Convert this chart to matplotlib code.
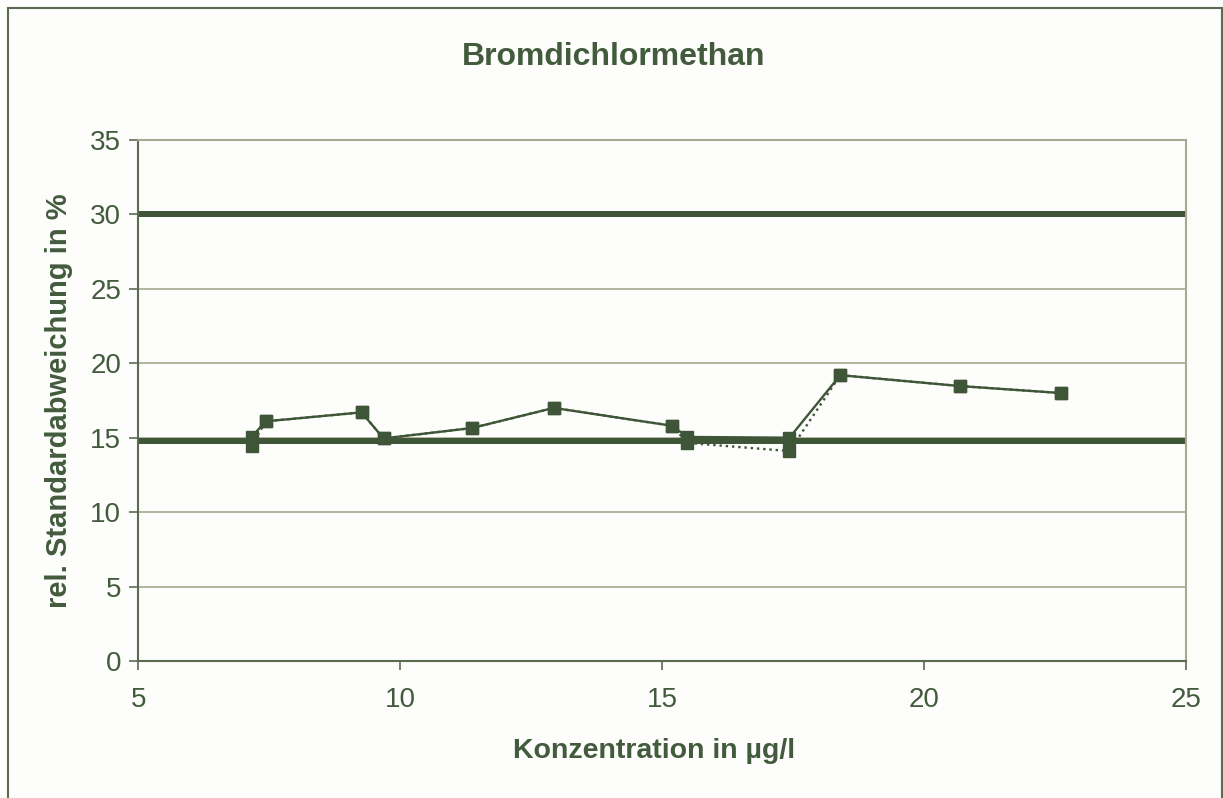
import matplotlib
matplotlib.use("Agg")
import matplotlib.pyplot as plt
from matplotlib.patches import Rectangle

# --- Daten ---
konz = [7.16, 7.43, 9.26, 9.68, 11.37, 12.93, 15.19, 15.48, 17.43, 18.40, 20.68, 22.61]
rsd_a = [15.05, 16.1, 16.7, 14.95, 15.65, 17.0, 15.8, 15.05, 15.0, 19.2, 18.47, 18.0]
rsd_b = [14.45, 16.1, 16.7, 14.95, 15.65, 17.0, 15.8, 14.65, 14.1, 19.2, 18.47, 18.0]
grenzen = [30.0, 14.8]

GRUEN = '#3f5538'
TEXT = '#435b3d'
GRID = '#a9a890'
ACHSE = '#5b6b52'

plt.rcParams['font.family'] = ['Liberation Sans', 'DejaVu Sans']

fig = plt.figure(figsize=(12.23, 7.98), dpi=100, facecolor='#fdfdfb')
ax = fig.add_axes([0.1132, 0.1717, 0.8565, 0.6529])
ax.set_facecolor('#fdfdfb')

for g in grenzen:
    ax.axhline(g, color=GRUEN, linewidth=4.3, zorder=2)

ax.plot(konz, rsd_b, color=GRUEN, linestyle=':', linewidth=1.7,
        marker='s', markersize=9, zorder=3)
ax.plot(konz, rsd_a, color=GRUEN, linestyle='-', linewidth=1.7,
        marker='s', markersize=9, zorder=4)

ax.set_xlim(5, 25)
ax.set_ylim(0, 35)
ax.set_xticks([5, 10, 15, 20, 25])
ax.set_yticks(range(0, 36, 5))
ax.grid(axis='y', color=GRID, linewidth=1.2, zorder=1)

ax.spines['left'].set_color(ACHSE)
ax.spines['bottom'].set_color(ACHSE)
ax.spines['top'].set_color(GRID)
ax.spines['right'].set_color(GRID)
for s in ax.spines.values():
    s.set_linewidth(1.5)
ax.tick_params(axis='both', direction='out', length=6.5, width=1.2, color=ACHSE,
               labelcolor=TEXT, labelsize=20)
ax.tick_params(axis='x', pad=12)
ax.tick_params(axis='y', pad=6)

ax.set_xlabel('Konzentration in µg/l', fontsize=20.5, fontweight='bold', color=TEXT, labelpad=18)
ax.xaxis.label.set_x(0.492)
ax.set_ylabel('rel. Standardabweichung in %', fontsize=21, fontweight='bold', color=TEXT, labelpad=12)
fig.text(0.502, 0.929, 'Bromdichlormethan', ha='center', va='center',
         fontsize=23, fontweight='bold', color=TEXT)

# Rahmen um das Diagramm
rahmen = Rectangle((8 / 1223, -0.05), (1222 - 8) / 1223, 1.05 - 8 / 798,
                   transform=fig.transFigure, fill=False, edgecolor=ACHSE,
                   linewidth=1.5, clip_on=False)
fig.patches.append(rahmen)

fig.savefig('out.png', dpi=100, facecolor=fig.get_facecolor())
